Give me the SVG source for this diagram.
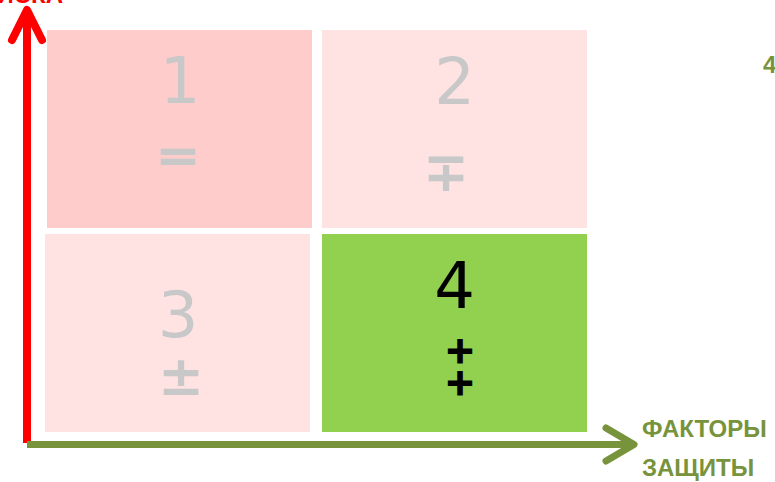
<svg xmlns="http://www.w3.org/2000/svg" width="775" height="482" viewBox="0 0 775 482">
<style>
.num{font-family:"DejaVu Sans",sans-serif;font-size:64px;text-anchor:middle}
.sym{font-family:"DejaVu Sans",sans-serif;font-size:52px;text-anchor:middle}
.grey{fill:#c8c8c8}
.thick{stroke:#c8c8c8;stroke-width:2}
.plus{font-family:"DejaVu Sans",sans-serif;font-size:37px;font-weight:bold;text-anchor:middle;fill:#000000;stroke:#000000;stroke-width:1.2}
.lbl{font-family:"Liberation Sans",Arial,sans-serif;font-weight:bold;font-size:24px}
</style>
<rect width="775" height="482" fill="#ffffff"/>
<g id="box1">
<rect x="47" y="30" width="265" height="198" fill="#ffcccc"/>
<text class="num grey" x="180" y="103">1</text>
<text class="sym grey thick" x="178" y="173">=</text>
</g>
<g id="box2">
<rect x="322" y="30" width="265" height="198" fill="#ffe3e3"/>
<text class="num grey" x="454.5" y="104">2</text>
<text class="sym grey thick" x="446" y="190">∓</text>
</g>
<g id="box3">
<rect x="45" y="234" width="265" height="198" fill="#ffe3e3"/>
<text class="num grey" x="178" y="337">3</text>
<text class="sym grey thick" x="181" y="394">±</text>
</g>
<g id="box4">
<rect x="322" y="234" width="265" height="198" fill="#92d050"/>
<text class="num" x="454.5" y="308" fill="#000000">4</text>
<text class="plus" x="460" y="363"><tspan x="460" y="363">+</tspan><tspan x="460" y="395">+</tspan></text>
</g>
<g id="connectors" fill="none" stroke-linecap="round" stroke-linejoin="round">
<g id="axis-y" stroke="#ff0000" stroke-width="8">
<line x1="27" y1="443" x2="27" y2="12" stroke-linecap="butt"/>
<polyline points="12,40 27,10 42,40"/>
</g>
<g id="axis-x" stroke="#77933c" stroke-width="7">
<line x1="27" y1="444.5" x2="632" y2="444.5" stroke-linecap="butt"/>
<polyline points="606,428 634,444.5 606,461"/>
</g>
</g>
<g id="labels">
<text class="lbl" x="63" y="3" fill="#ff0000" text-anchor="end">ФАКТОРЫ РИСКА</text>
<text class="lbl" x="763" y="73" fill="#77933c">4</text>
<text class="lbl" x="642" y="437" fill="#77933c">ФАКТОРЫ</text>
<text class="lbl" x="642" y="476" fill="#77933c">ЗАЩИТЫ</text>
</g>
</svg>
